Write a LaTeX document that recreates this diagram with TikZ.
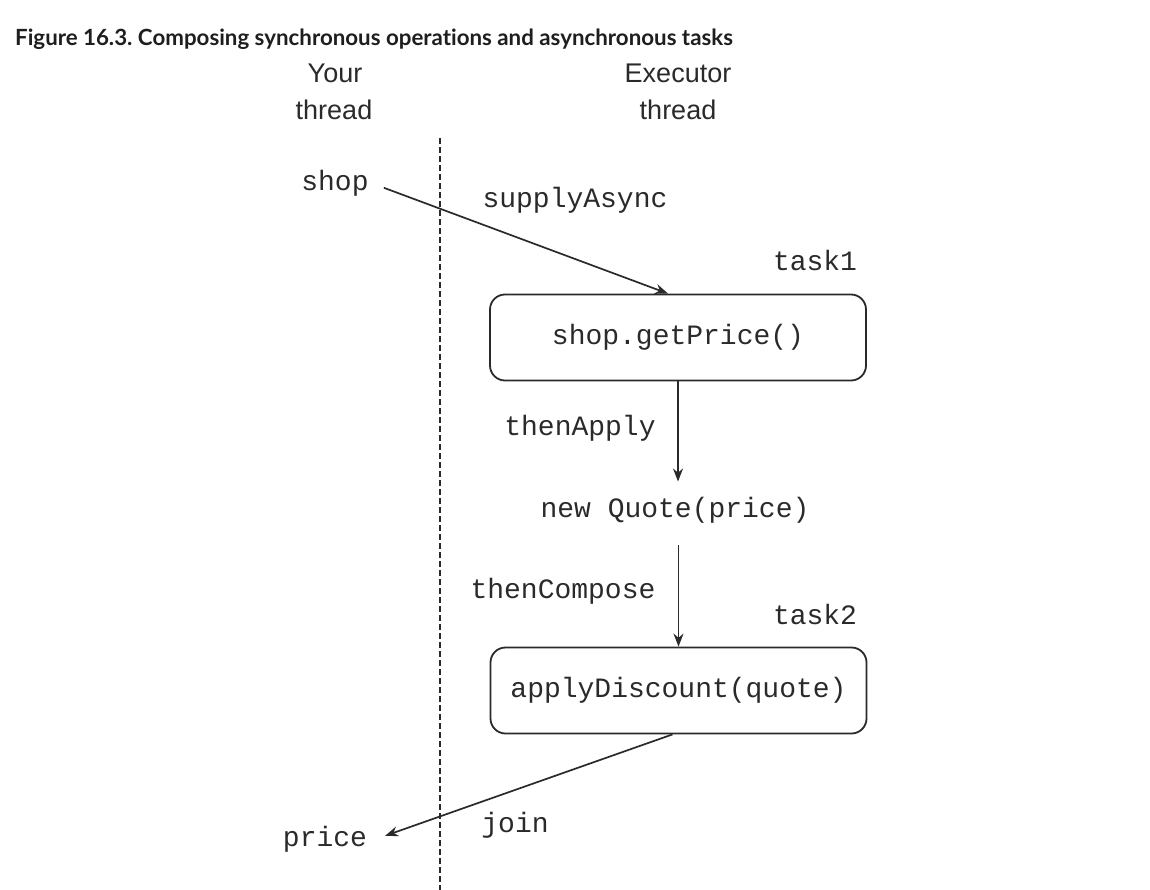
\documentclass[tikz,border=0pt]{standalone}
\usepackage{fontspec}
\newfontfamily\titlefont{Lato}[Ligatures={NoCommon}]
\newfontfamily\hdrfont{Liberation Sans}
\newfontfamily\codefont{Liberation Mono}
\usetikzlibrary{arrows.meta,calc}
\definecolor{ink}{HTML}{2A2A2A}
\definecolor{titlec}{HTML}{1E1E1E}
\frenchspacing
\begin{document}
\begin{tikzpicture}[x=1pt,y=-1pt,
  titletext/.style={font=\titlefont\bfseries\fontsize{22.3}{26}\selectfont, text=titlec, inner sep=0pt, anchor=base west},
  hdr/.style={font=\hdrfont\fontsize{27}{30}\selectfont, text=ink, inner sep=0pt, anchor=base},
  code/.style={font=\codefont\fontsize{28}{32}\selectfont, text=ink, inner sep=0pt, anchor=base},
  taskbox/.style={draw=ink, line width=1.8pt, rounded corners=15pt, minimum width=376pt, minimum height=86pt, inner sep=0pt, font=\codefont\fontsize{28}{32}\selectfont, text=ink},
  arr/.style={draw=ink, line width=1.7pt, -{Stealth[length=13pt,width=10pt]}},
  threadsep/.style={draw=ink, line width=1.8pt, dash pattern=on 6pt off 3pt}
]
\useasboundingbox (0,0) rectangle (1150,890);

\node[titletext] (title) at (15,46) {Figure 16.3. Composing synchronous operations and asynchronous tasks};

\node[hdr] (your1) at (335,83) {Your};
\node[hdr] (your2) at (334,120) {thread};
\node[hdr] (exec1) at (678,83) {Executor};
\node[hdr] (exec2) at (678,120) {thread};

\coordinate (septop) at (440,138);
\coordinate (sepbot) at (440,890);
\draw[threadsep] (septop) -- (sepbot);

\node[code] (shop) at (335,191) {shop};
\node[code] (supply) at (575,208) {supplyAsync};
\node[code] (task1) at (815,271) {task1};
\node[taskbox] (box1) at (678,337.5) {shop.getPrice()};
\node[code] (thenapply) at (580,435) {thenApply};
\node[code, inner ysep=15pt] (quote) at (675,517) {new Quote(price)};
\node[code] (thencompose) at (563,598) {thenCompose};
\node[code] (task2) at (815,624) {task2};
\node[taskbox] (box2) at (678.5,690.5) {applyDiscount(quote)};
\node[code] (join) at (515,832) {join};
\node[code] (price) at (325,846) {price};

\draw[arr] ([xshift=15pt,yshift=-4pt]shop.east) -- ([xshift=-10pt]box1.north);
\draw[arr] (box1.south) -- (box1.south |- quote.north);
\draw[arr, shorten <=7pt] (quote.south -| box2.north) -- (box2.north);
\draw[arr] ([xshift=-6pt]box2.south) -- ([xshift=18pt,yshift=3pt]price.east);
\end{tikzpicture}
\end{document}
